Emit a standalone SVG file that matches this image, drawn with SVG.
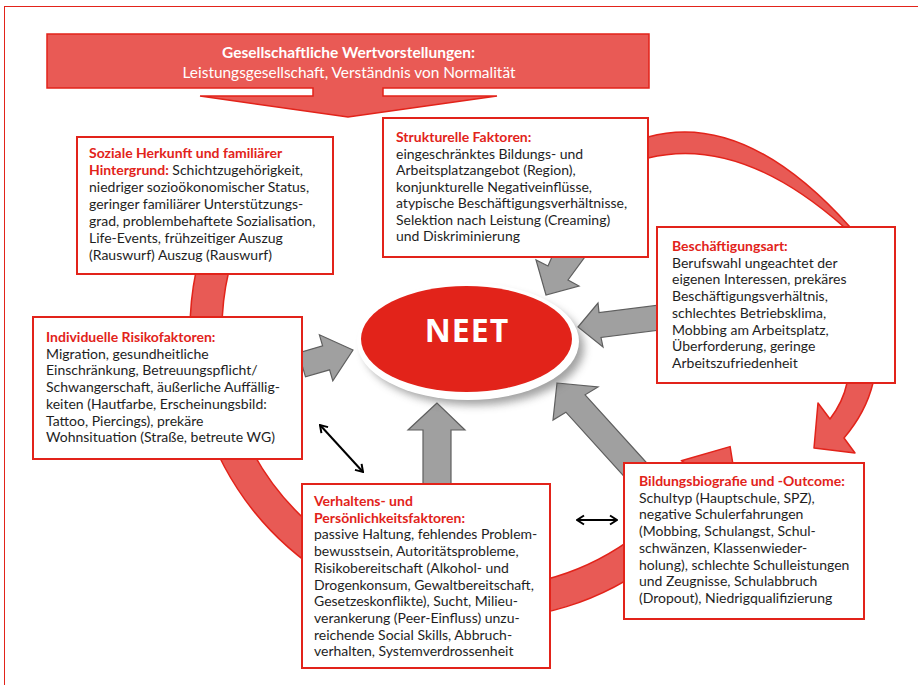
<svg xmlns="http://www.w3.org/2000/svg" width="918" height="685" viewBox="0 0 918 685">
<defs>
<style>
.box{fill:#fff;stroke:#e2231a;stroke-width:2}
.band{fill:#e85a55;stroke:#e2231a;stroke-width:1.5;stroke-linejoin:round}
.garrow{fill:#a0a0a0;stroke:#5f5f5f;stroke-width:1.2;stroke-linejoin:miter}
.t{font-family:Lato,"Liberation Sans",sans-serif;font-size:14px;fill:#1e1e1e}
.h{font-weight:bold;fill:#e2231a}
.dbl{stroke:#000;stroke-width:2;fill:none;marker-start:url(#ah);marker-end:url(#ah)}
</style>
<marker id="ah" viewBox="0 0 12 12" refX="11" refY="6" markerWidth="12" markerHeight="12" markerUnits="userSpaceOnUse" orient="auto-start-reverse">
<path d="M4,1.5 L11,6 L4,10.5" fill="none" stroke="#000" stroke-width="2"/>
</marker>
<filter id="sh" x="-20%" y="-20%" width="140%" height="150%"><feGaussianBlur stdDeviation="4"/></filter>
</defs>
<rect x="4.5" y="6.5" width="1000" height="1000" fill="#fff" stroke="#e2231a" stroke-width="1"/>

<g id="connectors">
<path class="band" d="M195.9,272 A290,290 0 0 0 723.2,487.9 L738.3,497.7 L730.1,446.6 L681.3,460.7 L696.4,470.5 A258,258 0 0 1 228.6,272 Z"/>
<path class="band" d="M648,137 Q745,110 850,227 L844,227 Q740,135 648,158 Z"/>
<path class="band" d="M873,383 Q866,412 844,438 L855,453 L814,448 L818,403 L830,419 Q843,402 847,383 Z"/>
<polygon class="garrow" points="353,350 319.4,334.8 322.6,345.8 298.5,352.8 305.5,376.8 329.6,369.8 332.8,380.8"/>
<polygon class="garrow" points="578,327 598,303 599,312.5 660,305 660,330 601,337.5 603,347"/>
<polygon class="garrow" points="437,403 408,430 423,430 423,486 451,486 451,430 465,430"/>
<polygon class="garrow" points="557,383 598,387 585.1,394.8 652,468.8 632.9,486.2 565.9,412.2 553,420"/>
<polygon class="garrow" points="546,295 536,260 548,266 555,250 590,250 568,280 579,286"/>
<line class="dbl" x1="320" y1="425" x2="363" y2="472"/>
<line class="dbl" x1="577" y1="520" x2="617" y2="520"/>
</g>

<g id="banner">
<path d="M47,34 H649 V88 H383 V96 H497 L348,117 L200,96 H313 V88 H47 Z" fill="#e95a55" stroke="#e2231a" stroke-width="1.5"/>
<text x="348.5" y="57.5" text-anchor="middle" font-family="Lato,'Liberation Sans',sans-serif" font-size="15" font-weight="bold" fill="#fff" textLength="253" lengthAdjust="spacingAndGlyphs">Gesellschaftliche Wertvorstellungen:</text>
<text x="349" y="77.5" text-anchor="middle" font-family="Lato,'Liberation Sans',sans-serif" font-size="15" fill="#fff" textLength="333" lengthAdjust="spacingAndGlyphs">Leistungsgesellschaft, Verständnis von Normalität</text>
</g>

<g id="soziale">
<rect class="box" x="77" y="137" width="256" height="137"/>
<text class="t" x="89" y="158"><tspan class="h">Soziale Herkunft und familiärer</tspan>
<tspan x="89" y="175"><tspan class="h">Hintergrund:</tspan> Schichtzugehörigkeit,</tspan>
<tspan x="89" y="192">niedriger sozioökonomischer Status,</tspan>
<tspan x="89" y="209">geringer familiärer Unterstützungs-</tspan>
<tspan x="89" y="226">grad, problembehaftete Sozialisation,</tspan>
<tspan x="89" y="243">Life-Events, frühzeitiger Auszug</tspan>
<tspan x="89" y="260">(Rauswurf) Auszug (Rauswurf)</tspan></text>
</g>

<g id="strukturelle">
<rect class="box" x="383" y="118" width="265" height="139"/>
<text class="t" x="396" y="142"><tspan class="h">Strukturelle Faktoren:</tspan>
<tspan x="396" y="158.5">eingeschränktes Bildungs- und</tspan>
<tspan x="396" y="175">Arbeitsplatzangebot (Region),</tspan>
<tspan x="396" y="191.5">konjunkturelle Negativeinflüsse,</tspan>
<tspan x="396" y="208">atypische Beschäftigungsverhältnisse,</tspan>
<tspan x="396" y="224.5">Selektion nach Leistung (Creaming)</tspan>
<tspan x="396" y="241">und Diskriminierung</tspan></text>
</g>

<g id="beschaeftigung">
<rect class="box" x="657" y="227" width="238" height="156"/>
<text class="t" x="672" y="251"><tspan class="h">Beschäftigungsart:</tspan>
<tspan x="672" y="267.7">Berufswahl ungeachtet der</tspan>
<tspan x="672" y="284.4">eigenen Interessen, prekäres</tspan>
<tspan x="672" y="301.1">Beschäftigungsverhältnis,</tspan>
<tspan x="672" y="317.8">schlechtes Betriebsklima,</tspan>
<tspan x="672" y="334.5">Mobbing am Arbeitsplatz,</tspan>
<tspan x="672" y="351.2">Überforderung, geringe</tspan>
<tspan x="672" y="368">Arbeitszufriedenheit</tspan></text>
</g>

<g id="individuelle">
<rect class="box" x="33" y="317" width="269" height="142"/>
<text class="t" x="46" y="342"><tspan class="h">Individuelle Risikofaktoren:</tspan>
<tspan x="46" y="358.7">Migration, gesundheitliche</tspan>
<tspan x="46" y="375.4">Einschränkung, Betreuungspflicht/</tspan>
<tspan x="46" y="392.1">Schwangerschaft, äußerliche Auffällig-</tspan>
<tspan x="46" y="408.8">keiten (Hautfarbe, Erscheinungsbild:</tspan>
<tspan x="46" y="425.5">Tattoo, Piercings), prekäre</tspan>
<tspan x="46" y="442">Wohnsituation (Straße, betreute WG)</tspan></text>
</g>

<g id="verhalten">
<rect class="box" x="302" y="484" width="248" height="184"/>
<text class="t" x="314" y="506"><tspan class="h">Verhaltens- und</tspan>
<tspan x="314" y="522.7" class="h">Persönlichkeitsfaktoren:</tspan>
<tspan x="314" y="539.4">passive Haltung, fehlendes Problem-</tspan>
<tspan x="314" y="556.1">bewusstsein, Autoritätsprobleme,</tspan>
<tspan x="314" y="572.8">Risikobereitschaft (Alkohol- und</tspan>
<tspan x="314" y="589.5">Drogenkonsum, Gewaltbereitschaft,</tspan>
<tspan x="314" y="606.2">Gesetzeskonflikte), Sucht, Milieu-</tspan>
<tspan x="314" y="622.9">verankerung (Peer-Einfluss) unzu-</tspan>
<tspan x="314" y="639.6">reichende Social Skills, Abbruch-</tspan>
<tspan x="314" y="656">verhalten, Systemverdrossenheit</tspan></text>
</g>

<g id="bildung">
<rect class="box" x="624" y="463" width="240" height="156"/>
<text class="t" x="639" y="486"><tspan class="h">Bildungsbiografie und -Outcome:</tspan>
<tspan x="639" y="502.7">Schultyp (Hauptschule, SPZ),</tspan>
<tspan x="639" y="519.4">negative Schulerfahrungen</tspan>
<tspan x="639" y="536.1">(Mobbing, Schulangst, Schul-</tspan>
<tspan x="639" y="552.8">schwänzen, Klassenwieder-</tspan>
<tspan x="639" y="569.5">holung), schlechte Schulleistungen</tspan>
<tspan x="639" y="586.2">und Zeugnisse, Schulabbruch</tspan>
<tspan x="639" y="603">(Dropout), Niedrigqualifizierung</tspan></text>
</g>

<g id="neet">
<ellipse cx="474" cy="348" rx="110" ry="57" fill="#555" opacity="0.55" filter="url(#sh)"/>
<ellipse cx="468" cy="341.5" rx="111" ry="58.5" fill="#fff"/>
<ellipse cx="466.5" cy="339" rx="105.5" ry="53" fill="#e2231a"/>
<text x="467" y="342" text-anchor="middle" font-family="'Open Sans','Noto Sans',sans-serif" font-size="32" font-weight="bold" fill="#fff" letter-spacing="1">NEET</text>
</g>
</svg>
